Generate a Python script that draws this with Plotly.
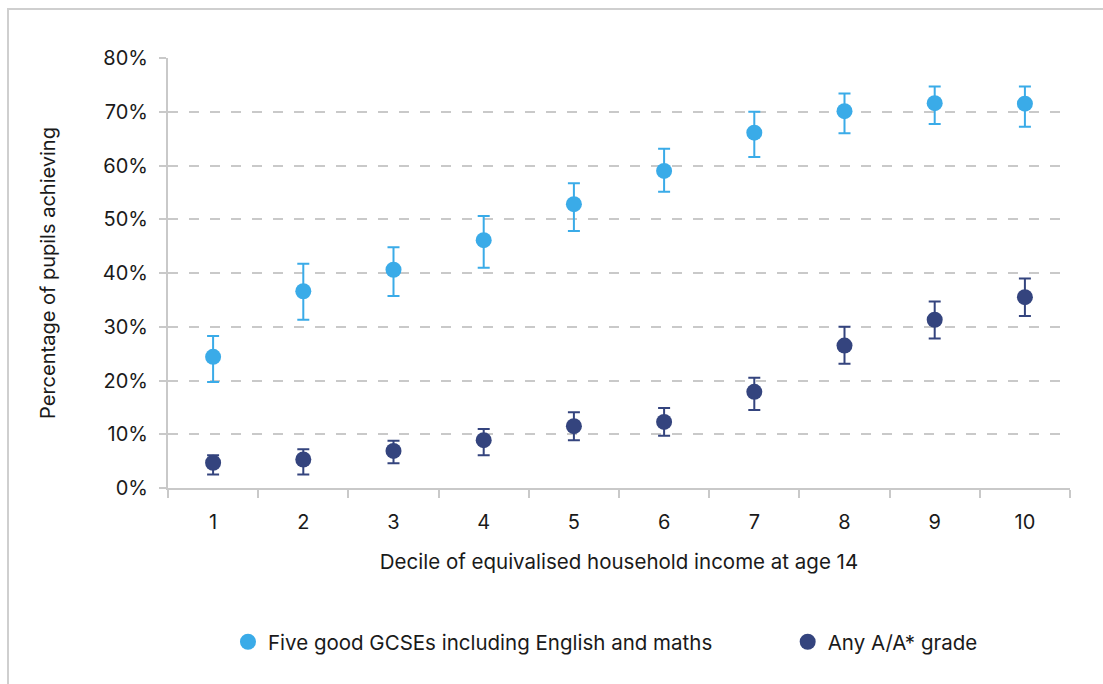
import plotly.graph_objects as go

# Income decile at age 14
deciles = ["1", "2", "3", "4", "5", "6", "7", "8", "9", "10"]

# Five good GCSEs including English and maths (% of pupils) with confidence bounds
gcse = [24.4, 36.6, 40.6, 46.1, 52.8, 59.0, 66.1, 70.1, 71.6, 71.5]
gcse_hi = [28.3, 41.7, 44.8, 50.6, 56.7, 63.1, 70.0, 73.4, 74.7, 74.7]
gcse_lo = [19.7, 31.3, 35.7, 41.0, 47.8, 55.1, 61.6, 66.0, 67.7, 67.2]

# Any A/A* grade (% of pupils) with confidence bounds
astar = [4.7, 5.3, 6.9, 8.9, 11.5, 12.3, 17.9, 26.5, 31.3, 35.5]
astar_hi = [6.1, 7.2, 8.8, 11.0, 14.1, 14.9, 20.5, 30.0, 34.7, 39.0]
astar_lo = [2.5, 2.5, 4.6, 6.1, 8.9, 9.7, 14.5, 23.1, 27.8, 32.0]

y_ticks = [0, 10, 20, 30, 40, 50, 60, 70, 80]
y_tick_labels = ["0%", "10%", "20%", "30%", "40%", "50%", "60%", "70%", "80%"]

LIGHT = "#3aabe8"
DARK = "#34447e"
GRID = "#c9c9c9"
FONT = "Inter"
TXT = "#1a1a1a"


def err(vals, hi, lo, color):
    return dict(
        type="data",
        symmetric=False,
        array=[h - v for h, v in zip(hi, vals)],
        arrayminus=[v - l for v, l in zip(vals, lo)],
        color=color,
        thickness=2,
        width=6,
    )


fig = go.Figure()
fig.add_trace(go.Scatter(
    x=deciles, y=gcse, mode="markers",
    name="Five good GCSEs including English and maths",
    marker=dict(color=LIGHT, size=16),
    error_y=err(gcse, gcse_hi, gcse_lo, LIGHT),
    legend="legend",
))
fig.add_trace(go.Scatter(
    x=deciles, y=astar, mode="markers",
    name="Any A/A* grade",
    marker=dict(color=DARK, size=16),
    error_y=err(astar, astar_hi, astar_lo, DARK),
    legend="legend2",
))

# Light frame around the whole chart
fig.add_shape(
    type="rect", xref="paper", yref="paper",
    x0=-0.1774, x1=1.2, y0=-0.6, y1=1.114,
    line=dict(color="#cfcfcf", width=2), fillcolor="rgba(0,0,0,0)",
    layer="below",
)

legend_style = dict(
    orientation="h", yanchor="middle", y=-0.358, xanchor="left",
    font=dict(family=FONT, size=20.5, color=TXT),
    bgcolor="rgba(0,0,0,0)",
)

fig.update_layout(
    width=1103, height=684,
    margin=dict(l=168, r=33, t=58, b=196, autoexpand=False),
    paper_bgcolor="white", plot_bgcolor="white",
    font=dict(family=FONT, size=20, color=TXT),
    showlegend=True,
    legend=dict(x=0.0665, **legend_style),
    legend2=dict(x=0.687, **legend_style),
)
fig.update_xaxes(
    type="category", tickson="boundaries", range=[-0.5, len(deciles) - 0.5],
    showline=True, linecolor=GRID, linewidth=2,
    ticks="outside", ticklen=8, tickcolor=GRID, tickwidth=2,
    showgrid=False, zeroline=False, automargin=False,
    tickfont=dict(size=20), ticklabelstandoff=15,
    title=dict(text="Decile of equivalised household income at age 14",
               font=dict(size=20.5), standoff=22),
)
fig.update_yaxes(
    range=[0, 80], tickvals=y_ticks, ticktext=y_tick_labels,
    showline=True, linecolor=GRID, linewidth=2,
    ticks="outside", ticklen=7, tickcolor=GRID, tickwidth=2,
    showgrid=True, gridcolor=GRID, gridwidth=2, griddash="10px,11px",
    zeroline=False, automargin=False,
    tickfont=dict(size=20), ticklabelstandoff=7,
    title=dict(text="Percentage of pupils achieving", font=dict(size=20), standoff=42),
)

fig.write_html("out.html")
